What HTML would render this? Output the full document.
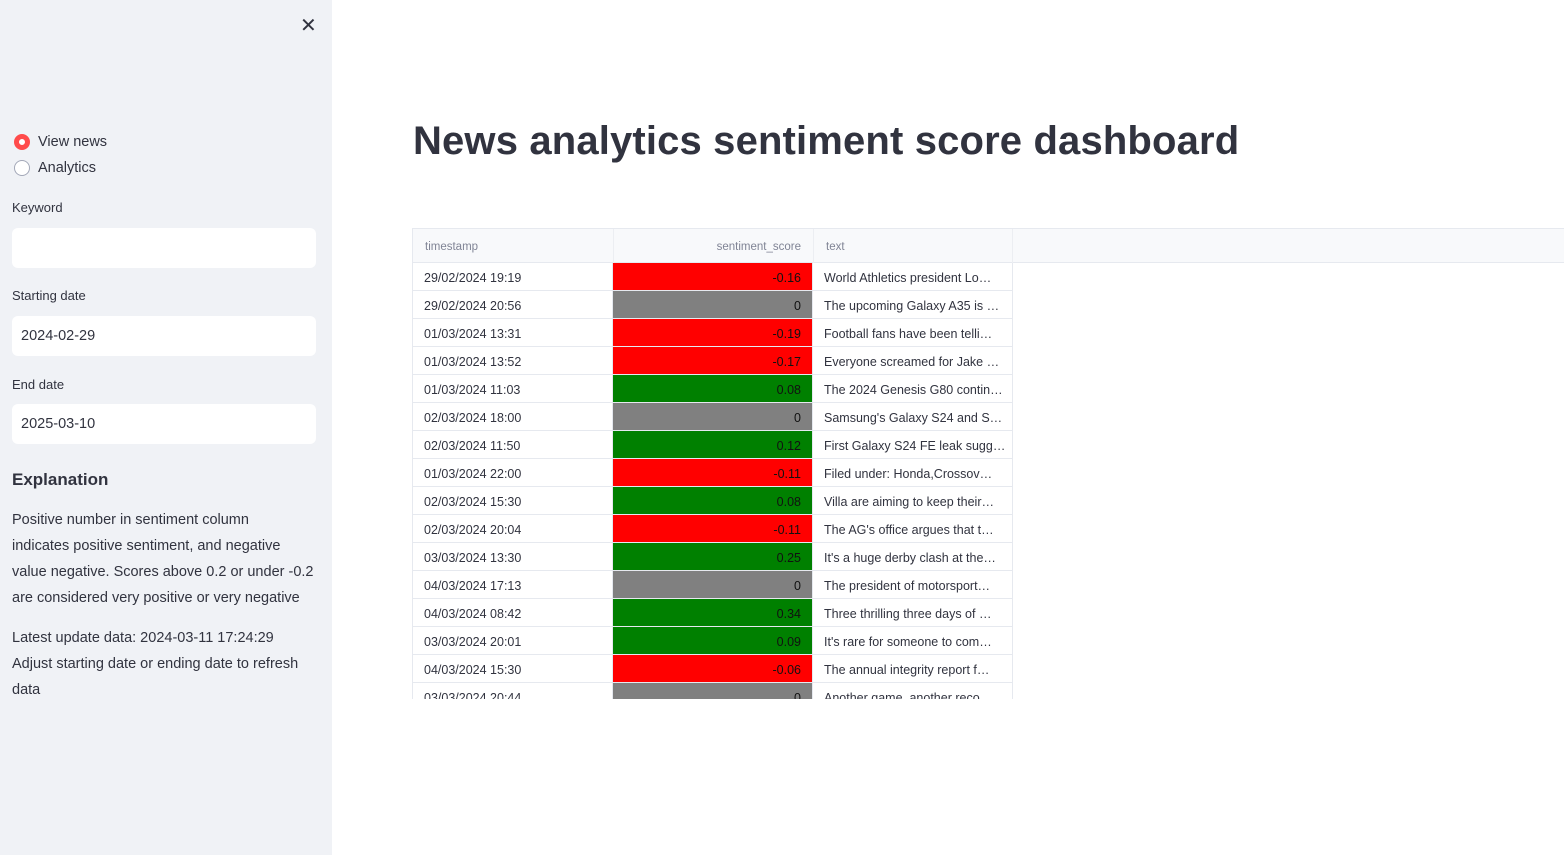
<!DOCTYPE html>
<html><head><meta charset="utf-8">
<style>
*{box-sizing:border-box;margin:0;padding:0}
body{width:1564px;height:855px;overflow:hidden;background:#fff;font-family:"Liberation Sans",sans-serif;color:#31333f;position:relative}
#sidebar{position:absolute;left:0;top:0;width:332px;height:855px;background:#f0f2f6}
.close{position:absolute;left:300px;top:13px;font-size:20px;color:#31333f;font-weight:300}
.radio{position:absolute;left:14px;display:flex;align-items:center;font-size:14.5px}
.radio .c{width:16px;height:16px;border-radius:50%;margin-right:8px;box-sizing:border-box}
.lbl{position:absolute;left:12px;font-size:13px}
.inp{position:absolute;left:12px;width:304px;height:40px;background:#fff;border-radius:6px;font-size:14.5px;padding:12px 9px}
.p{position:absolute;left:12px;width:315px;font-size:14.5px;line-height:26px;white-space:nowrap}
h1{position:absolute;left:413px;top:119px;font-size:40px;font-weight:bold;letter-spacing:0.15px;color:#31333f;white-space:nowrap}
#tbl{position:absolute;left:412px;top:228px;width:1152px;height:471px;overflow:hidden;border-top:1px solid #e6e9ef;border-left:1px solid #e6e9ef}
.hdr{position:absolute;left:0;top:0;width:1152px;height:34px;background:#f8f9fb;border-bottom:1px solid #e6e9ef}
.hc{position:absolute;top:0;height:34px;line-height:36px;font-size:11.5px;color:#808495;padding:0 12px}
.cell{position:absolute;height:28px;line-height:31px;font-size:12.5px;padding:0 11px;white-space:nowrap;overflow:hidden;border-bottom:1px solid #e6e9ef;border-right:1px solid #e6e9ef;color:#31333f}
</style></head><body>
<div id="sidebar">
<div class="close">✕</div>
<div class="radio" style="top:134px"><span class="c" style="border:5px solid #ff4b4b;background:#fff"></span>View news</div>
<div class="radio" style="top:160px"><span class="c" style="border:1px solid #a3a8b8;background:#fff"></span>Analytics</div>
<div class="lbl" style="top:200px">Keyword</div>
<div class="inp" style="top:228px"></div>
<div class="lbl" style="top:288px">Starting date</div>
<div class="inp" style="top:316px">2024-02-29</div>
<div class="lbl" style="top:377px">End date</div>
<div class="inp" style="top:404px">2025-03-10</div>
<div class="p" style="top:467px;font-size:17px;font-weight:bold">Explanation</div>
<div class="p" style="top:507px">Positive number in sentiment column<br>indicates positive sentiment, and negative<br>value negative. Scores above 0.2 or under -0.2<br>are considered very positive or very negative</div>
<div class="p" style="top:625px">Latest update data: 2024-03-11 17:24:29<br>Adjust starting date or ending date to refresh<br>data</div>
</div>
<h1>News analytics sentiment score dashboard</h1>
<div id="tbl">
<div class="hdr">
<div class="hc" style="left:0;width:200px">timestamp</div>
<div class="hc" style="left:200px;width:200px;text-align:right;border-left:1px solid #eceef2">sentiment_score</div>
<div class="hc" style="left:400px;width:200px;border-left:1px solid #eceef2;border-right:1px solid #eceef2">text</div>
</div>
</div>
<script>
const timestamps=["29/02/2024 19:19","29/02/2024 20:56","01/03/2024 13:31","01/03/2024 13:52","01/03/2024 11:03","02/03/2024 18:00","02/03/2024 11:50","01/03/2024 22:00","02/03/2024 15:30","02/03/2024 20:04","03/03/2024 13:30","04/03/2024 17:13","04/03/2024 08:42","03/03/2024 20:01","04/03/2024 15:30","03/03/2024 20:44"];
const scores=[-0.16,0,-0.19,-0.17,0.08,0,0.12,-0.11,0.08,-0.11,0.25,0,0.34,0.09,-0.06,0];
const texts=["World Athletics president Lo…","The upcoming Galaxy A35 is …","Football fans have been telli…","Everyone screamed for Jake …","The 2024 Genesis G80 contin…","Samsung's Galaxy S24 and S…","First Galaxy S24 FE leak sugg…","Filed under: Honda,Crossov…","Villa are aiming to keep their…","The AG's office argues that t…","It's a huge derby clash at the…","The president of motorsport…","Three thrilling three days of …","It's rare for someone to com…","The annual integrity report f…","Another game, another reco…"];
const tbl=document.getElementById('tbl');
timestamps.forEach((t,i)=>{
  const top=34+i*28;
  const a=document.createElement('div');a.className='cell';a.style.cssText=`left:0;top:${top}px;width:200px`;a.textContent=t;
  
  
  const s=scores[i];
  const b=document.createElement('div');b.className='cell';
  b.style.cssText=`left:200px;top:${top}px;width:200px;text-align:right;background:${s>0?'#008000':s<0?'#ff0000':'#808080'};color:#111`;
  b.textContent=String(s);
  
  
  const c=document.createElement('div');c.className='cell';c.style.cssText=`left:400px;top:${top}px;width:200px`;c.textContent=texts[i];
  
  
  tbl.append(a,b,c);
});
</script>
</body></html>
